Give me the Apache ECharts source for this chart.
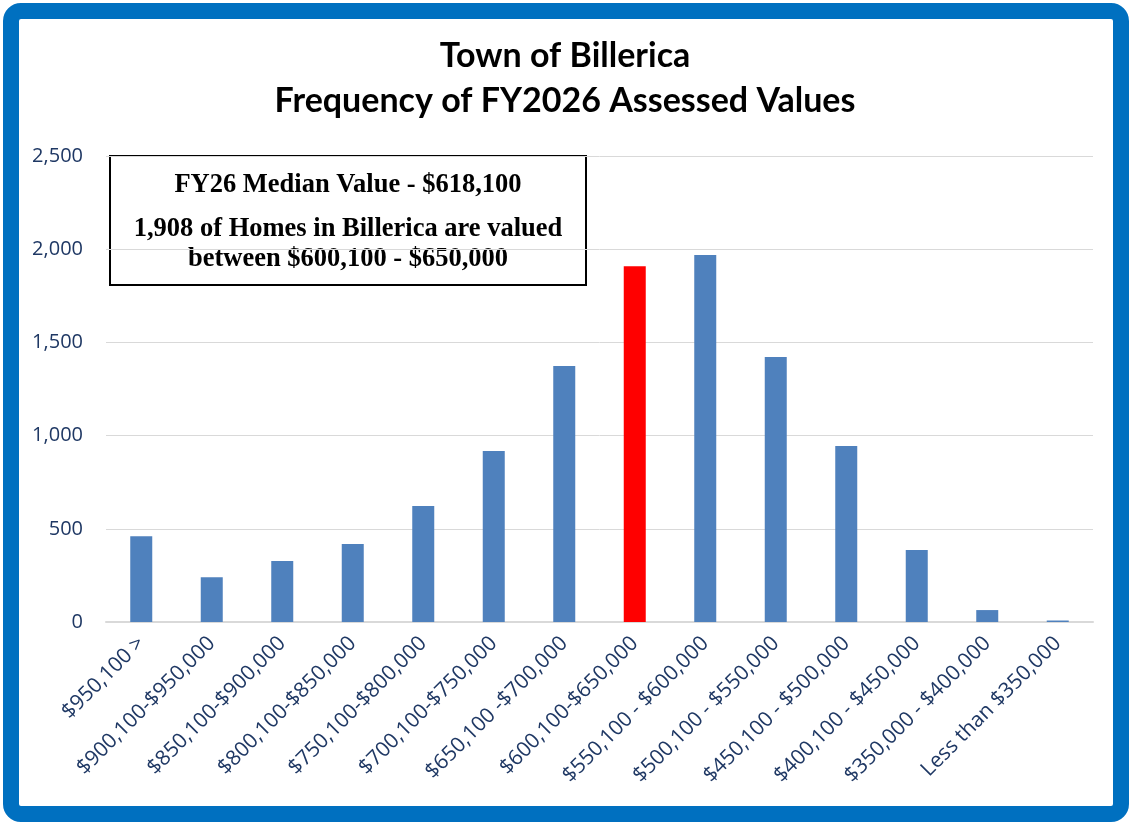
<!DOCTYPE html>
<html>
<head>
<meta charset="utf-8">
<script src="https://cdn.jsdelivr.net/npm/echarts@6/dist/echarts.min.js"></script>
<style>
  html, body { margin: 0; padding: 0; background: #fff; }
  #chart { width: 1130px; height: 823px; }
</style>
</head>
<body>
<div id="chart"></div>
<script>
// value ranges (x axis)
const categories = [
  '$950,100 >', '$900,100-$950,000', '$850,100-$900,000', '$800,100-$850,000',
  '$750,100-$800,000', '$700,100-$750,000', '$650,100 -$700,000', '$600,100-$650,000',
  '$550,100 - $600,000', '$500,100 - $550,000', '$450,100 - $500,000',
  '$400,100 - $450,000', '$350,000 - $400,000', 'Less than $350,000'
]
// number of homes per range
const homeCounts = [460, 240, 327, 418, 622, 917, 1373, 1908, 1969, 1422, 944, 386, 64, 8]
const medianIndex = 7
const yTicks = [0, 500, 1000, 1500, 2000, 2500]

const chart = echarts.init(document.getElementById('chart'))

const options = {
  animation: false,
  title: {
    text: 'Town of Billerica\nFrequency of FY2026 Assessed Values',
    left: 'center',
    top: 29,
    textStyle: {
      fontFamily: 'Lato',
      fontWeight: 'bold',
      fontSize: 34,
      lineHeight: 45,
      color: '#000'
    }
  },
  grid: { left: 106, right: 37, top: 156, bottom: 201, containLabel: false },
  xAxis: {
    type: 'category',
    data: categories,
    axisLine: { lineStyle: { color: '#d9d9d9', width: 2 } },
    axisTick: { show: false },
    axisLabel: {
      interval: 0,
      rotate: 45,
      margin: 18,
      fontFamily: 'Open Sans',
      fontSize: 21,
      color: '#1f3864'
    }
  },
  yAxis: {
    type: 'value',
    min: yTicks[0],
    max: yTicks[yTicks.length - 1],
    interval: 500,
    axisLine: { show: false },
    axisTick: { show: false },
    splitLine: { lineStyle: { color: '#d9d9d9', width: 1 } },
    axisLabel: {
      margin: 23,
      fontFamily: 'Open Sans',
      fontSize: 20,
      color: '#1f3864',
      formatter: v => v.toLocaleString('en-US')
    }
  },
  series: [{
    type: 'bar',
    barWidth: 22,
    data: homeCounts.map((v, i) => ({
      value: v,
      itemStyle: { color: i === medianIndex ? '#ff0000' : '#4f81bd' }
    }))
  }],
  graphic: [
    // blue frame
    {
      type: 'rect',
      shape: { x: 11, y: 11, width: 1110, height: 803, r: 10 },
      style: { fill: 'none', stroke: '#0070c0', lineWidth: 16 },
      z: 10
    },
    // annotation box
    {
      type: 'group',
      left: 109,
      top: 155,
      z: 20,
      children: [
        {
          type: 'rect',
          shape: { x: 0, y: 0, width: 476, height: 129 },
          style: { fill: '#fff', stroke: '#000', lineWidth: 2 }
        },
        {
          type: 'text',
          x: 238,
          y: 29,
          style: {
            text: 'FY26 Median Value - $618,100',
            align: 'center',
            verticalAlign: 'middle',
            font: 'bold 26.5px "Liberation Serif"',
            fill: '#000'
          }
        },
        {
          type: 'text',
          x: 238,
          y: 88,
          style: {
            text: '1,908 of Homes in Billerica are valued\nbetween $600,100 - $650,000',
            align: 'center',
            verticalAlign: 'middle',
            lineHeight: 30,
            font: 'bold 26.5px "Liberation Serif"',
            fill: '#000'
          }
        }
      ]
    }
  ]
}

chart.setOption(options)
</script>
</body>
</html>
